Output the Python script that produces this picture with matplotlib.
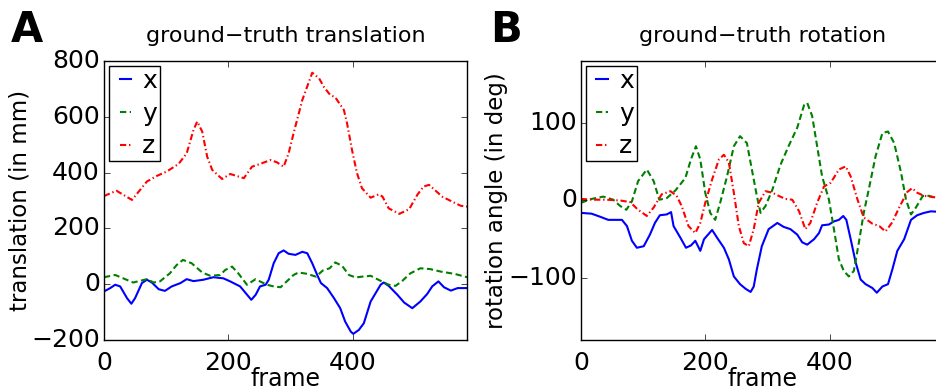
import matplotlib
matplotlib.use("Agg")
import matplotlib.pyplot as plt

plt.style.use("classic")
plt.rcParams["font.family"] = ["DejaVu Sans"]

# ---------------- data ----------------
# Panel A: translation (mm)
tx_frames = [0, 10, 18, 26, 37, 44, 50, 61, 69, 77, 88, 98, 109, 123, 133, 144, 160, 176, 192,
             203, 219, 228, 237, 244, 251, 260, 265, 273, 281, 289, 297, 308, 319, 327, 335, 343,
             349, 359, 370, 380, 388, 397, 401, 410, 418, 429, 437, 445, 450, 458, 472, 483, 496,
             509, 520, 528, 538, 547, 558, 569, 584]
tx_vals = [-26, -14, -2, -8, -50, -70, -50, 4, 16, 6, -18, -24, -8, 4, 18, 11, 16, 25, 21,
           10, -8, -32, -56, -38, -8, -2, 16, 75, 111, 121, 109, 105, 116, 111, 75, 33,
           4, -14, -50, -86, -134, -170, -178, -164, -140, -62, -32, -2, 6, -6, -38, -66, -86,
           -62, -35, -8, 10, -11, -23, -14, -14]

ty_frames = [0, 18, 34, 47, 69, 80, 90, 106, 117, 127, 141, 158, 171, 187, 195, 206, 216, 230,
             244, 251, 262, 273, 284, 294, 305, 313, 327, 341, 352, 363, 372, 383, 394, 405, 415,
             429, 445, 458, 469, 480, 493, 509, 525, 542, 564, 584]
ty_vals = [25, 33, 18, 6, 18, 6, 10, 39, 69, 87, 75, 42, 30, 33, 51, 63, 39, -2,
           18, 10, -2, -8, -11, 10, 33, 42, 37, 27, 49, 57, 78, 66, 33, 24, 27,
           30, 12, -2, -6, 12, 39, 57, 54, 45, 37, 25]

tz_frames = [0, 20, 45, 69, 85, 101, 120, 133, 144, 150, 158, 166, 174, 190, 203, 225, 238, 251,
             268, 278, 289, 297, 305, 319, 335, 346, 354, 364, 372, 386, 391, 399, 407, 415, 429,
             442, 448, 458, 475, 491, 504, 514, 523, 531, 544, 560, 574, 584]
tz_vals = [316, 335, 302, 368, 388, 404, 431, 469, 553, 583, 547, 457, 410, 377, 395, 380, 421, 431,
           445, 437, 421, 469, 541, 660, 758, 738, 706, 678, 670, 624, 577, 481, 398, 344, 310,
           322, 314, 272, 252, 269, 320, 350, 356, 340, 314, 296, 281, 278]

# Panel B: rotation (deg)
rx_frames = [0, 17, 31, 44, 66, 74, 82, 90, 101, 111, 119, 127, 138, 145, 149, 160, 169, 177, 184,
             192, 198, 211, 219, 230, 238, 246, 256, 265, 273, 278, 283, 291, 302, 316, 326, 337,
             348, 356, 364, 375, 383, 388, 399, 407, 415, 422, 427, 434, 442, 450, 458, 469, 476,
             485, 494, 501, 509, 520, 531, 541, 552, 563, 584]
rx_vals = [-16, -17, -21, -25, -25, -33, -52, -61, -59, -44, -29, -19, -18, -15, -33, -48, -61, -58, -52,
           -65, -50, -38, -48, -61, -76, -98, -108, -114, -118, -111, -89, -59, -37, -29, -34, -37,
           -44, -54, -57, -50, -42, -32, -31, -27, -25, -20, -25, -50, -80, -102, -108, -113, -119,
           -111, -108, -89, -65, -50, -25, -19, -16, -14, -15]

ry_frames = [0, 17, 36, 52, 63, 73, 82, 92, 106, 117, 126, 138, 152, 168, 177, 185, 192, 200, 208,
             216, 224, 235, 246, 256, 267, 275, 283, 289, 297, 308, 321, 334, 348, 359, 364, 372,
             380, 388, 399, 407, 415, 423, 431, 439, 447, 455, 463, 474, 485, 494, 504, 515, 523,
             531, 539, 550, 560, 584]
ry_vals = [-3, 2, 5, 1, -7, -12, -1, 25, 40, 25, 1, 3, 13, 29, 53, 70, 53, 10, -16,
           -25, -3, 31, 70, 83, 74, 40, 6, -16, -7, 14, 46, 70, 94, 123, 126, 109,
           70, 31, 1, -37, -76, -91, -98, -91, -55, -16, 14, 57, 87, 89, 74, 36, 1,
           -18, -9, 6, 6, -1]

rz_frames = [0, 20, 41, 63, 79, 92, 106, 117, 130, 144, 154, 162, 173, 184, 192, 200, 211, 222, 230,
             238, 246, 254, 262, 270, 278, 286, 297, 308, 318, 329, 340, 351, 361, 369, 380, 391,
             402, 415, 426, 434, 445, 455, 469, 480, 490, 501, 512, 525, 533, 541, 552, 563, 584]
rz_vals = [2, 1, 1, 0, -2, -12, -20, -9, 8, 12, 6, -7, -33, -42, -29, -3, 27, 53, 59,
           49, 10, -33, -55, -59, -37, -3, 12, 10, 6, 2, 1, -14, -37, -29, -3, 18,
           23, 40, 44, 31, 1, -22, -30, -33, -40, -28, -9, 11, 16, 10, 6, 5, 2]

x_ticks = [0, 200, 400]
labels = ["x", "y", "z"]
n_frames = 584

# ---------------- figure ----------------
fig = plt.figure(figsize=(9.37, 3.92), dpi=100, facecolor="white")
axA = fig.add_axes([0.111, 0.1327, 0.3874, 0.7117])
axB = fig.add_axes([0.620, 0.1327, 0.3874, 0.7117])

lw = 1.5
for ax, series, ylim, yticks, ylabel, title, letter, lx in [
    (axA, [(tx_frames, tx_vals), (ty_frames, ty_vals), (tz_frames, tz_vals)],
     (-200, 800), [-200, 0, 200, 400, 600, 800], "translation (in mm)",
     "ground\u2212truth translation", "A", 0.012),
    (axB, [(rx_frames, rx_vals), (ry_frames, ry_vals), (rz_frames, rz_vals)],
     (-180, 180), [-100, 0, 100], "rotation angle (in deg)",
     "ground\u2212truth rotation", "B", 0.523),
]:
    ax.set_facecolor("white")
    (f1, v1), (f2, v2), (f3, v3) = series
    ax.plot(f1, v1, color="b", ls="-", lw=lw, label=labels[0])
    ax.plot(f2, v2, color="g", ls="--", dashes=(4.5, 2.5), lw=lw, label=labels[1])
    ax.plot(f3, v3, color="r", ls="-.", dashes=(4.5, 2.0, 1.0, 2.0), lw=lw, label=labels[2])
    ax.set_xlim(0, n_frames)
    ax.set_ylim(*ylim)
    ax.set_xticks(x_ticks)
    ax.set_yticks(yticks)
    ax.tick_params(axis="both", labelsize=18)
    ax.tick_params(axis="x", pad=8)
    ax.tick_params(axis="y", pad=3)
    ax.set_xlabel("frame", fontsize=17, labelpad=-6)
    ax.set_ylabel(ylabel, fontsize=16.5, labelpad=0)
    ax.set_title(title, fontsize=16, pad=14)
    leg = ax.legend(loc="upper left", fontsize=18, fancybox=False, handlelength=1.05,
                    borderpad=0.12, labelspacing=0.35, handletextpad=0.15, borderaxespad=0.2)
    leg.get_frame().set_edgecolor("black")
    fig.text(lx, 0.893, letter, fontsize=30, fontweight="bold", ha="left", va="baseline")

fig.savefig("out.png", dpi=100, facecolor="white")
